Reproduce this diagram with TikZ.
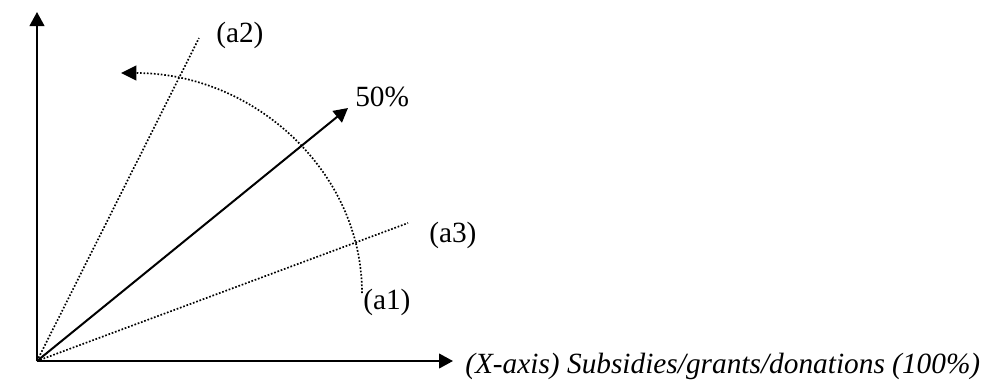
\documentclass[tikz,border=0pt]{standalone}
\usepackage{fontspec}
\setmainfont{Liberation Serif}
\usetikzlibrary{arrows.meta}
\begin{document}
\begin{tikzpicture}[x=0.75pt,y=-0.75pt,
  axis/.style={line width=1.5pt,-{Triangle[length=10.5pt,width=11pt]}},
  dotline/.style={line width=1.25pt,dash pattern=on 1.25pt off 1.35pt},
  lbl/.style={inner sep=0pt,anchor=base west,font=\fontsize{22}{26}\selectfont}]
\useasboundingbox (0,0) rectangle (982,380);
\coordinate (O) at (37,361);
\coordinate (Ytop) at (37,12);
\coordinate (Xend) at (453,361);
\coordinate (A2end) at (199,38);
\coordinate (A3end) at (408,223);
\coordinate (Fend) at (348,108);
\coordinate (Arcstart) at (362,293);
\coordinate (Arcend) at (121,73);
% axes
\draw[axis] (O) -- (Ytop);
\draw[axis] (O) -- (Xend);
% dotted rays
\draw[dotline] (O) -- (A2end);
\draw[dotline] (O) -- (A3end);
% 50% arrow
\draw[axis] (O) -- (Fend);
% dotted arc
\draw[dotline,-{Triangle[length=11.5pt,width=11pt]}] (Arcstart) .. controls (362,171.5) and (254.1,73) .. (Arcend);
% labels
\node[lbl] (la2) at (216,42) {(a2)};
\node[lbl] (l50) at (355,106) {50\%};
\node[lbl] (la3) at (429,242) {(a3)};
\node[lbl] (la1) at (363,309) {(a1)};
\node[lbl] (lx) at (465,373) {\itshape (X-axis) Subsidies/grants/donations (100\%)};
\end{tikzpicture}
\end{document}
